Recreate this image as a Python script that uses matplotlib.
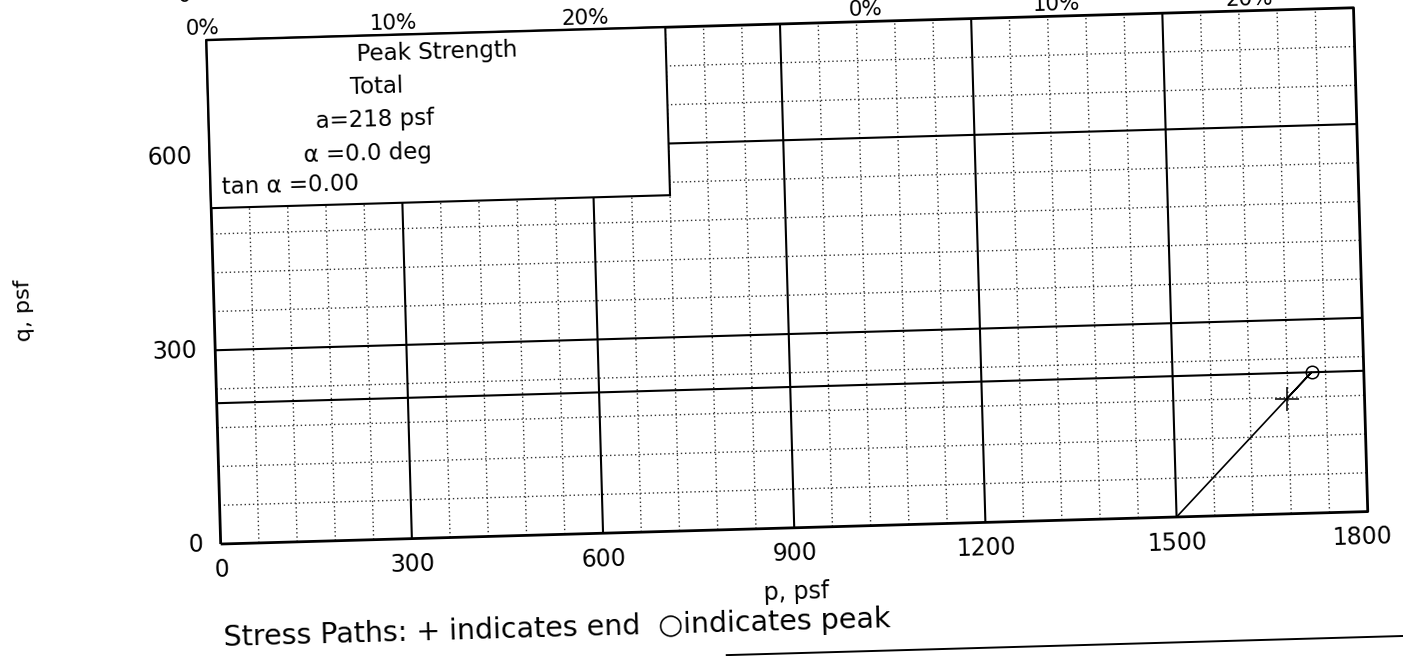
import numpy as np
import matplotlib
matplotlib.use('Agg')
import matplotlib.pyplot as plt
from matplotlib.transforms import Affine2D
from matplotlib.patches import Rectangle

plt.rcParams['font.family'] = ['DejaVu Sans']

# peak strength envelope
a_psf = 218
alpha_deg = 0.0
tan_alpha = 0.00

# stress path: start -> peak -> end
p_path = [1500, 1718, 1678]
q_path = [0, 218, 178]
p_peak, q_peak = 1718, 218
p_end, q_end = 1678, 178

x_ticks = [0, 300, 600, 900, 1200, 1500, 1800]
y_ticks = [0, 300, 600]
strain_labels = ['0%', '10%', '20%', '0%', '10%', '20%']
strain_pos = [-5, 293, 595, 1035, 1334, 1637]

x_max, y_max = 1800, 780
ANGLE = 1.62  # sheet is slightly skewed

fig = plt.figure(figsize=(14.03, 6.56), dpi=100)
ax = fig.add_axes([0.1573, 0.1707, 0.8179, 0.7683])
ax.set_xlim(0, x_max)
ax.set_ylim(0, y_max)
ax.axis('off')

px, py = ax.transData.transform((0, 0))
tr = ax.transData + Affine2D().rotate_deg_around(px, py, ANGLE)

def line(xs, ys, **kw):
    kw.setdefault('color', 'black')
    ax.plot(xs, ys, transform=tr, clip_on=False, solid_capstyle='butt', **kw)

def label(x, y, s, rot=0, **kw):
    kw.setdefault('fontsize', 17)
    ax.text(x, y, s, transform=tr, rotation=ANGLE + rot, rotation_mode='anchor',
            color='black', clip_on=False, **kw)

# dotted minor grid every 60 psf
for xv in np.arange(60, x_max, 60):
    if xv % 300:
        line([xv, xv], [0, y_max], lw=1.0, color='#333333', ls=(0, (1, 2)))
for yv in np.arange(60, y_max, 60):
    if yv % 300:
        line([0, x_max], [yv, yv], lw=1.0, color='#333333', ls=(0, (1, 2)))

# major grid
for xv in x_ticks[1:-1]:
    line([xv, xv], [0, y_max], lw=1.5)
for yv in y_ticks[1:]:
    line([0, x_max], [yv, yv], lw=1.5)

# failure envelope q = a + p tan(alpha)
p_env = np.array([0, x_max])
line(p_env, a_psf + tan_alpha * p_env, lw=1.5)

# frame
line([0, x_max, x_max, 0, 0], [0, 0, y_max, y_max, 0], lw=2.0)

# stress path and markers
line(p_path, q_path, lw=1.2)
ax.plot([p_end], [q_end], marker='+', ms=17, mew=1.1, color='black',
        transform=tr, clip_on=False, zorder=5)
ax.plot([p_peak], [q_peak], marker='o', ms=9, mew=1.1, mfc='none', color='black',
        transform=tr, clip_on=False, zorder=5)

# results box
ax.add_patch(Rectangle((0, 520), 720, 260, transform=tr, facecolor='white',
                       edgecolor='black', lw=1.5, zorder=4, clip_on=False))
box_kw = dict(ha='center', va='center', fontsize=16.5, zorder=6)
label(361, 752, 'Peak Strength', **box_kw)
label(265, 700, 'Total', **box_kw)
label(261, 649, 'a=%d psf' % a_psf, **box_kw)
label(248, 598, 'α =%.1f deg' % alpha_deg, **box_kw)
label(18, 552, 'tan α =%.2f' % tan_alpha, ha='left', va='center', fontsize=16.5, zorder=6)

# tick labels
for xv in x_ticks:
    label(xv - 10 if xv == x_max else xv, -40, str(xv), ha='center', va='center')
for yv in y_ticks:
    label(-28, yv, str(yv), ha='right', va='center')
label(900, -100, 'p, psf', ha='center', va='center')
label(-298, 370, 'q, psf', rot=90, ha='center', va='center', fontsize=16)

# strain axes of the plots above
for s, xv in zip(strain_labels, strain_pos):
    label(xv, 798, s, ha='center', va='center', fontsize=15.5)
label(-22, 849, '0', ha='right', va='center', fontsize=15.5)

label(0, -146, 'Stress Paths: + indicates end  \u25cbindicates peak',
      ha='left', va='center', fontsize=20.5)
line([787, 1950], [-194, -194], lw=1.4)

fig.savefig('out.png', dpi=100)
